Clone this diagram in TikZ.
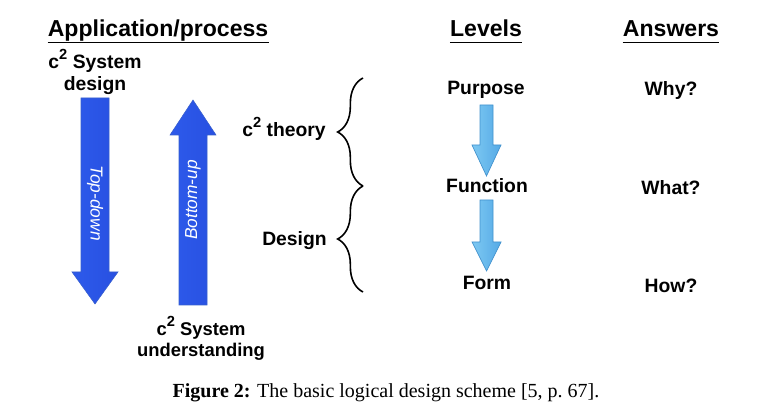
\documentclass[tikz,border=0pt]{standalone}
\usepackage{fontspec}
\setmainfont{Liberation Sans}
\newfontfamily\capfont{Liberation Serif}
\usetikzlibrary{decorations.pathreplacing}

\definecolor{bigL}{RGB}{45,90,235}
\definecolor{bigM}{RGB}{100,150,255}
\definecolor{bigR}{RGB}{40,80,225}
\definecolor{bigEdge}{RGB}{55,95,205}
\definecolor{smL}{RGB}{125,200,242}
\definecolor{smR}{RGB}{85,170,230}
\definecolor{smEdge}{RGB}{65,145,205}

\newcommand{\csq}{c\raisebox{0.5em}{\fontsize{11}{11}\selectfont 2}}

\begin{document}
\begin{tikzpicture}[x=0.75pt,y=0.75pt,yscale=-1,xscale=1,
  head/.style={font=\fontsize{17.3}{20}\selectfont\bfseries, inner sep=0pt, text depth=4pt},
  lbl/.style={font=\fontsize{14.5}{16.5}\selectfont\bfseries, inner sep=0.75pt},
  arrowtxt/.style={font=\fontsize{13}{15}\selectfont\itshape, text=white, inner sep=0.75pt},
  bigarrow/.style={draw=bigEdge, line width=0.4pt, left color=bigL, middle color=bigM, right color=bigR},
  smallarrow/.style={draw=smEdge, line width=0.5pt, left color=smL, right color=smR},
  uline/.style={line width=1.1pt},
  bracket/.style={decorate, decoration={brace, amplitude=19pt}, line width=1.2pt}
]
\useasboundingbox (0,0) rectangle (779,420);

% headings
\node[head, anchor=base] (app) at (158,37) {Application/process};
\node[head, anchor=base] (lev) at (486,37) {Levels};
\node[head, anchor=base] (ans) at (671,37) {Answers};
\draw[uline] (app.south west) -- (app.south east);
\draw[uline] (lev.south west) -- (lev.south east);
\draw[uline] (ans.south west) -- (ans.south east);

% left side: process arrows
\node[lbl, align=center] (sysdesign) at (95,72) {\csq{} System\\design};

%Top-down arrow
\draw[bigarrow] (81,98) -- (109,98) -- (109,272) -- (118,272) -- (95,304) -- (72,272) -- (81,272) -- cycle;
\node[arrowtxt, rotate=-90] (topdown) at (95,203) {Top-down};

%Bottom-up arrow
\draw[bigarrow] (179,305) -- (207,305) -- (207,135) -- (216,135) -- (193,100) -- (170,135) -- (179,135) -- cycle;
\node[arrowtxt, rotate=90] (bottomup) at (193,200) {Bottom-up};

\node[lbl, align=center, font=\fontsize{13.8}{15.8}\selectfont\bfseries] (sysunder) at (201,338) {\csq{} System\\understanding};

% braces
\node[lbl, anchor=base east] (theory) at (327,137) {\csq{} theory};
\node[lbl, anchor=base east] (design) at (328,246) {Design};
\coordinate (bTop) at (363,78);
\coordinate (bMid) at (363,186);
\coordinate (bBot) at (363,292);
\draw[bracket] (bMid) -- (bTop);
\draw[bracket] (bBot) -- (bMid);

% levels
\node[lbl, anchor=base] (purpose) at (486,95) {Purpose};
\node[lbl, anchor=base] (function) at (487,193) {Function};
\node[lbl, anchor=base] (form) at (487,290) {Form};
\draw[smallarrow] (480,105) -- (493,105) -- (493,145) -- (501,145) -- (486.5,176) -- (472,145) -- (480,145) -- cycle;
\draw[smallarrow] (480,200) -- (493,200) -- (493,242) -- (501,242) -- (486.5,271) -- (472,242) -- (480,242) -- cycle;

% answers
\node[lbl, anchor=base] (why) at (671,96) {Why?};
\node[lbl, anchor=base] (what) at (671,195) {What?};
\node[lbl, anchor=base] (how) at (671,293) {How?};

% caption
\node[anchor=base, inner sep=0pt, font=\capfont\fontsize{15}{17}\selectfont] (caption) at (386,398)
  {\textbf{Figure 2:} The basic logical design scheme [5, p.~67].};

\end{tikzpicture}
\end{document}
